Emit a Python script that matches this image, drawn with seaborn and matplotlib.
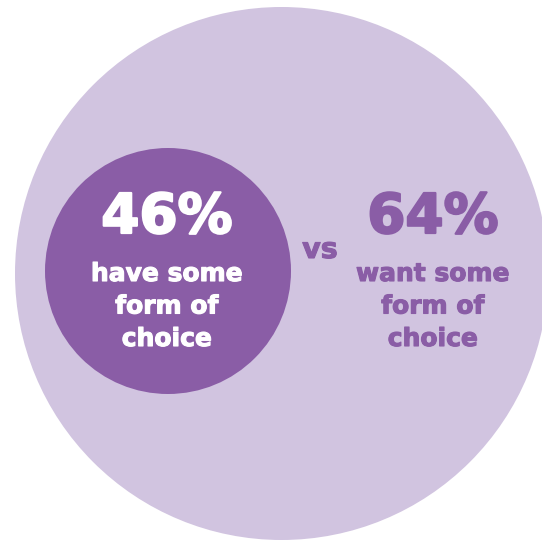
import matplotlib
matplotlib.use("Agg")
import matplotlib.pyplot as plt
import matplotlib.patheffects as pe
from matplotlib.patches import Circle
import seaborn as sns

# data
values = [46, 64]
labels = ["have some\nform of\nchoice", "want some\nform of\nchoice"]
separator = "vs"

LIGHT = "#D1C4E0"
DARK = "#8A5DA6"

sns.set_theme(style="white")
plt.rcParams['font.family'] = ['DejaVu Sans']

fig = plt.figure(figsize=(5.42, 5.41), dpi=100)
ax = fig.add_axes([0, 0, 1, 1])
ax.set_xlim(0, 542)
ax.set_ylim(541, 0)
ax.set_aspect('equal')
ax.axis('off')

ax.add_patch(Circle((281.5, 273.5), 266.5, color=LIGHT, lw=0))
ax.add_patch(Circle((168, 271), 123, color=DARK, lw=0))

centers = [167, 433]
colors = ["white", DARK]
for v, lab, cx, col in zip(values, labels, centers, colors):
    ax.text(cx, 233, f"{v}%", ha='center', va='baseline', fontsize=39.5,
            fontweight='bold', color=col,
            path_effects=[pe.withStroke(linewidth=1.6, foreground=col)])
    for i, line in enumerate(lab.split("\n")):
        ax.text(cx, 281 + i * 32.5, line, ha='center', va='baseline',
                fontsize=18, fontweight='bold', color=col,
                path_effects=[pe.withStroke(linewidth=0.8, foreground=col)])

ax.text(320, 258, separator, ha='center', va='baseline', fontsize=20.5,
        fontweight='bold', color=DARK,
        path_effects=[pe.withStroke(linewidth=0.8, foreground=DARK)])

fig.savefig("out.png", dpi=100)
